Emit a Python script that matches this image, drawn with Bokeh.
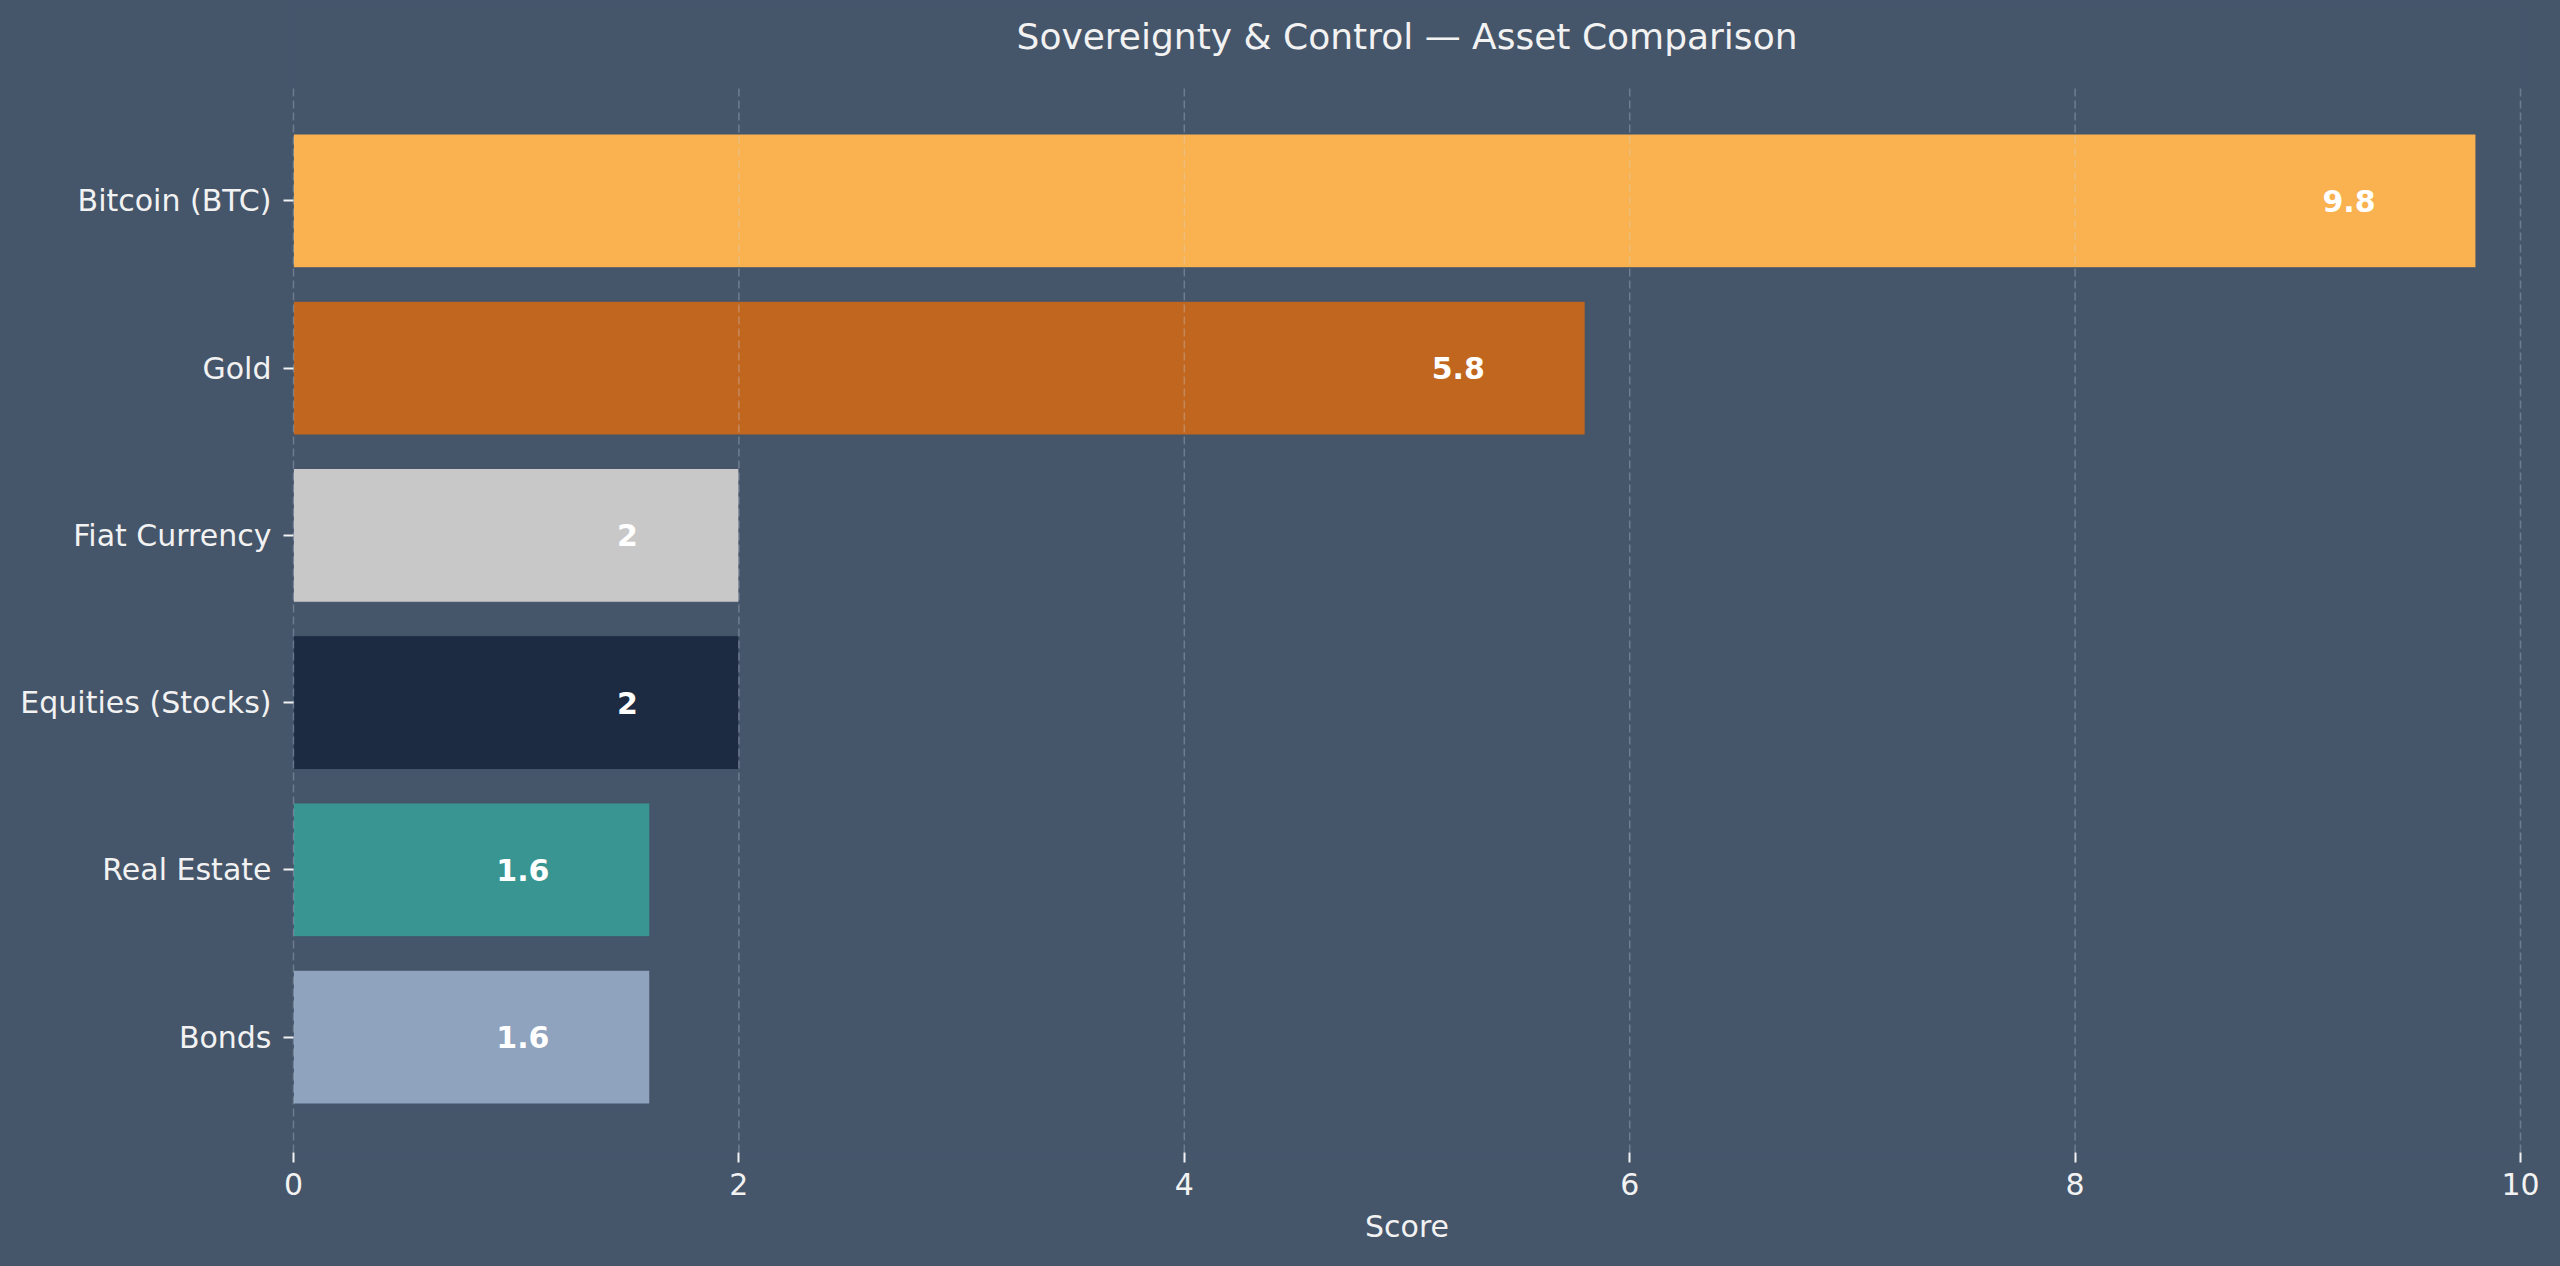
from bokeh.plotting import figure
from bokeh.models import Range1d, FixedTicker, ColumnDataSource, Label
from bokeh.core.properties import value
from bokeh.embed import file_html
from bokeh.resources import INLINE

title_text = "Sovereignty & Control \u2014 Asset Comparison"
categories = ["Bitcoin (BTC)", "Gold", "Fiat Currency", "Equities (Stocks)", "Real Estate", "Bonds"]
scores = [9.8, 5.8, 2, 2, 1.6, 1.6]
colors = ["#F9B24F", "#C0661F", "#C8C8C8", "#1C2A42", "#389592", "#8FA3BE"]
x_ticks = [0, 2, 4, 6, 8, 10]

BG = "#45556A"
FG = "#F2F2F2"
FONT = "DejaVu Sans"

n = len(categories)
ypos = [n - 1 - i for i in range(n)]
labels = [f"{v:g}" for v in scores]
label_x = [v - 0.5 - 0.035 * (len(s) - 1) for v, s in zip(scores, labels)]

src = ColumnDataSource(dict(y=ypos, right=scores, color=colors, lx=label_x, lab=labels))

W, H = 2544, 1250
BL, BR, BB = 293, 24, 98
TOP_GAP = 85           # pixels between canvas top and the axes area
AXES_H = H - TOP_GAP - BB
Y0, Y1 = -0.69, n - 1 + 0.69
per_px = (Y1 - Y0) / AXES_H
Y_TOP = Y1 + TOP_GAP * per_px

p = figure(width=W, height=H, output_backend="svg", toolbar_location=None,
           x_range=Range1d(0, 10), y_range=Range1d(Y0, Y_TOP))
p.min_border_left = BL
p.min_border_right = BR
p.min_border_top = 0
p.min_border_bottom = BB
p.background_fill_color = BG
p.border_fill_color = BG
p.outline_line_color = None

# grid (dashed, drawn above the bars, limited to the axes area)
p.segment(x0=x_ticks, y0=[Y0] * len(x_ticks), x1=x_ticks, y1=[Y1] * len(x_ticks),
          line_color="#D0D8E4", line_alpha=0.3, line_width=1.5, line_dash="8 4",
          level="overlay")

p.hbar(y="y", right="right", left=0, height=0.8, fill_color="color", line_color=BG,
       line_width=1, source=src)
p.text(x="lx", y="y", text="lab", source=src, text_align="center", text_baseline="middle",
       text_font=value(FONT), text_font_style="bold", text_font_size="30px", text_color="white")

title = Label(x=5, y=Y_TOP - 36 * per_px, text=title_text,
              text_font=FONT, text_font_size="36px", text_color=FG,
              text_align="center", text_baseline="middle")
p.add_layout(title)

p.xaxis.ticker = FixedTicker(ticks=x_ticks)
p.xaxis.axis_label = "Score"
p.yaxis.ticker = FixedTicker(ticks=ypos)
p.yaxis.major_label_overrides = {y: c for y, c in zip(ypos, categories)}

for ax in (p.xaxis[0], p.yaxis[0]):
    ax.axis_line_color = None
    ax.major_tick_line_color = FG
    ax.major_tick_line_width = 2
    ax.major_tick_out = 10
    ax.major_tick_in = 0
    ax.minor_tick_line_color = None
    ax.major_label_text_font = FONT
    ax.major_label_text_font_size = "30px"
    ax.major_label_text_color = FG
    ax.axis_label_text_font = FONT
    ax.axis_label_text_font_size = "30px"
    ax.axis_label_text_font_style = "normal"
    ax.axis_label_text_color = FG

p.xaxis.major_label_standoff = 10
p.xaxis.axis_label_standoff = 11
p.yaxis.major_label_standoff = 12

p.xgrid.grid_line_color = None
p.ygrid.grid_line_color = None

html = file_html(p, INLINE)
html = html.replace("<head>", "<head><style>html,body{background:%s;}</style>" % BG, 1)
open("out.html", "w").write(html)
